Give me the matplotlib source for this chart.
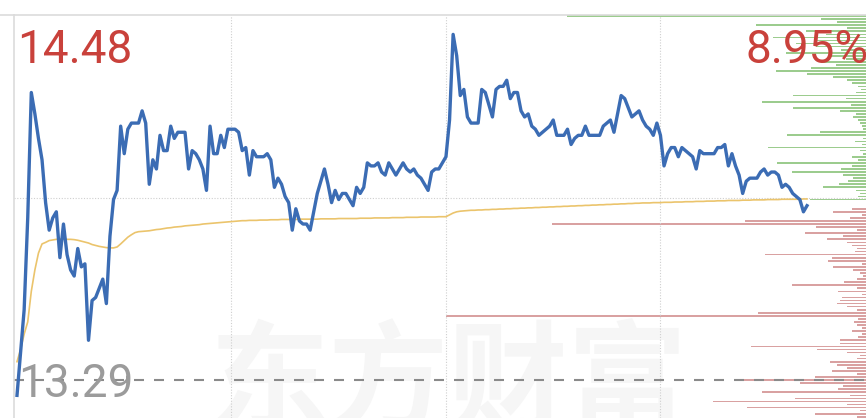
import matplotlib.pyplot as plt
from matplotlib.lines import Line2D
import numpy as np

# minute-by-minute last price (09:30 onwards)
price = [
    13.24, 13.38, 13.52, 13.82, 14.23, 14.16, 14.08, 14.01, 13.87, 13.78,
    13.82, 13.84, 13.69, 13.80, 13.70, 13.65, 13.63, 13.72, 13.66, 13.67,
    13.42, 13.55, 13.56, 13.59, 13.62, 13.54, 13.76, 13.88, 13.91, 14.12,
    14.03, 14.11, 14.13, 14.13, 14.13, 14.17, 14.13, 13.93, 14.01, 13.98,
    14.09, 14.04, 14.04, 14.12, 14.08, 14.10, 14.10, 14.10, 13.98, 14.04,
    14.03, 14.01, 13.98, 13.91, 14.12, 14.03, 14.03, 14.09, 14.05, 14.11,
    14.11, 14.11, 14.10, 14.04, 14.05, 13.96, 14.04, 14.02, 14.02, 14.02,
    14.03, 14.01, 13.92, 13.95, 13.93, 13.89, 13.87, 13.78, 13.85, 13.81,
    13.80, 13.80, 13.78, 13.84, 13.90, 13.94, 13.98, 13.93, 13.87, 13.91,
    13.88, 13.90, 13.90, 13.88, 13.86, 13.92, 13.90, 13.92, 14.00, 13.99,
    13.99, 14.00, 13.97, 13.96, 14.00, 13.98, 13.96, 13.98, 14.00, 13.98,
    13.97, 13.98, 13.96, 13.95, 13.93, 13.91, 13.97, 13.98, 13.98, 14.00,
    14.02, 14.14, 14.42, 14.35, 14.22, 14.24, 14.15, 14.13, 14.13, 14.13,
    14.24, 14.23, 14.19, 14.15, 14.24, 14.25, 14.25, 14.27, 14.21, 14.23,
    14.23, 14.17, 14.15, 14.16, 14.12, 14.11, 14.09, 14.10, 14.11, 14.12,
    14.14, 14.09, 14.09, 14.09, 14.11, 14.06, 14.08, 14.09, 14.09, 14.12,
    14.09, 14.09, 14.09, 14.09, 14.12, 14.13, 14.14, 14.10, 14.16, 14.22,
    14.21, 14.18, 14.15, 14.16, 14.17, 14.14, 14.12, 14.11, 14.09, 14.13,
    14.09, 13.99, 14.03, 14.05, 14.05, 14.02, 14.05, 14.04, 14.03, 14.02,
    13.98, 14.04, 14.03, 14.03, 14.03, 14.03, 14.05, 14.05, 14.06, 13.99,
    14.03, 13.99, 13.96, 13.90, 13.94, 13.95, 13.95, 13.95, 13.97, 13.98,
    13.96, 13.97, 13.97, 13.96, 13.92, 13.93, 13.92, 13.90, 13.89, 13.88,
    13.84, 13.86,
]

# average price line
avg_price = [
    13.350, 13.390, 13.440, 13.480, 13.580, 13.650, 13.705, 13.735, 13.740, 13.746,
    13.748, 13.750, 13.751, 13.751, 13.750, 13.750, 13.749, 13.747, 13.744, 13.741,
    13.738, 13.733, 13.730, 13.727, 13.725, 13.723, 13.722, 13.722, 13.725, 13.735,
    13.746, 13.757, 13.765, 13.772, 13.775, 13.776, 13.777, 13.778, 13.780, 13.782,
    13.783, 13.785, 13.787, 13.788, 13.790, 13.791, 13.792, 13.794, 13.795, 13.796,
    13.797, 13.798, 13.800, 13.801, 13.802, 13.803, 13.804, 13.805, 13.806, 13.807,
    13.808, 13.809, 13.810, 13.811, 13.811, 13.812, 13.812, 13.812, 13.813, 13.813,
    13.813, 13.814, 13.814, 13.814, 13.815, 13.815, 13.815, 13.815, 13.815, 13.816,
    13.816, 13.816, 13.816, 13.816, 13.816, 13.817, 13.817, 13.817, 13.817, 13.817,
    13.818, 13.818, 13.818, 13.818, 13.818, 13.818, 13.819, 13.819, 13.819, 13.819,
    13.820, 13.820, 13.820, 13.820, 13.820, 13.821, 13.821, 13.821, 13.821, 13.822,
    13.822, 13.822, 13.822, 13.823, 13.823, 13.823, 13.823, 13.823, 13.824, 13.824,
    13.824, 13.830, 13.836, 13.840, 13.842, 13.843, 13.844, 13.845, 13.845, 13.846,
    13.846, 13.847, 13.847, 13.848, 13.848, 13.849, 13.849, 13.850, 13.850, 13.851,
    13.851, 13.852, 13.852, 13.853, 13.853, 13.854, 13.854, 13.855, 13.855, 13.856,
    13.856, 13.857, 13.857, 13.858, 13.858, 13.859, 13.859, 13.860, 13.860, 13.861,
    13.861, 13.862, 13.862, 13.863, 13.863, 13.864, 13.864, 13.865, 13.865, 13.866,
    13.866, 13.867, 13.867, 13.868, 13.868, 13.869, 13.869, 13.869, 13.870, 13.870,
    13.870, 13.871, 13.871, 13.871, 13.872, 13.872, 13.872, 13.873, 13.873, 13.873,
    13.874, 13.874, 13.874, 13.875, 13.875, 13.875, 13.876, 13.876, 13.876, 13.877,
    13.877, 13.877, 13.877, 13.878, 13.878, 13.878, 13.879, 13.879, 13.879, 13.879,
    13.880, 13.880, 13.880, 13.880, 13.881, 13.881, 13.881, 13.881, 13.881, 13.881,
    13.882, 13.882,
]

prev_close = 13.29
top_price = 14.48
labels = ["14.48", "8.95%", "13.29"]

# chip distribution, one bar per 0.01 price step
chip_green_top = 14.48
chip_green_vol = [
    299, 45, 29, 110, 19, 60, 40, 93, 49, 70,
    50, 25, 80, 35, 20, 45, 30, 55, 90, 59,
    33, 19, 14, 8, 5, 10, 73, 20, 104, 15,
    73, 26, 10, 13, 8, 6, 4, 3, 46, 79,
    3, 11, 4, 98, 6, 3, 14, 8, 89, 14,
    25, 74, 23, 13, 18, 27, 43, 10, 6, 8,
    56,
]
chip_red_top = 13.85
chip_red_vol = [
    14, 33, 4, 16, 121, 314, 50, 9, 61, 23,
    39, 19, 14, 9, 11, 101, 34, 38, 4, 33,
    13, 6, 3, 9, 22, 74, 9, 28, 4, 24,
    26, 29, 19, 9, 108, 420, 8, 12, 9, 4,
    14, 4, 8, 26, 26, 115, 49, 19, 6, 9,
    36, 29, 19, 34, 9, 51, 129, 66, 23, 28,
    104, 16, 71, 153, 19, 119, 6, 51, 9,
]

W, H = 866, 418
fig = plt.figure(figsize=(W / 100, H / 100), dpi=100)
fig.patch.set_facecolor('white')

rect = [14 / W, 0, 852 / W, 403 / H]
ylim = (13.166, 14.4833)

# watermark behind everything
fig.text(448 / W, -4 / H, "东方财富", fontsize=86, family=['Noto Sans CJK SC', 'DejaVu Sans'],
         weight='bold', color='#f6f6f6', ha='center', va='baseline', zorder=-1)

# chip bars (drawn from the right edge)
ax_chip = fig.add_axes(rect)
ax_chip.set_facecolor('none')
green_levels = np.round(chip_green_top - 0.01 * np.arange(len(chip_green_vol)), 2)
red_levels = np.round(chip_red_top - 0.01 * np.arange(len(chip_red_vol)), 2)
ax_chip.barh(green_levels, chip_green_vol, height=0.0055, color='#9ccc8e', linewidth=0)
ax_chip.barh(red_levels, chip_red_vol, height=0.0055, color='#d9a1a1', linewidth=0)
ax_chip.set_xlim(852, 0)
ax_chip.set_ylim(*ylim)
ax_chip.axis('off')

# price axes
ax = fig.add_axes(rect)
ax.set_facecolor('none')
minutes = np.arange(len(price))
ax.set_xlim(-0.84, 237.5)
ax.set_ylim(*ylim)
ax.set_xticks([])
ax.set_yticks([])
for s in ['bottom', 'right']:
    ax.spines[s].set_visible(False)
for s in ['top', 'left']:
    ax.spines[s].set_color('#dcdcdc')
    ax.spines[s].set_linewidth(1.2)

for m in [60, 120, 180]:
    ax.axvline(m, color='#cfcfcf', lw=0.8, ls=(0, (1, 1.5)), zorder=1)
ax.axhline((top_price + prev_close) / 2, color='#cfcfcf', lw=0.8, ls=(0, (1, 1.5)), zorder=1)
ax.axhline(prev_close, color='#8a8a8a', lw=1.5, ls=(0, (4.8, 4.8)), zorder=2)

ax.plot(minutes, avg_price, color='#ebc46c', lw=1.2, zorder=3)
ax.plot(minutes, price, color='#3b6cb4', lw=2.4, solid_joinstyle='round', zorder=4)

# top border runs to the left edge
fig.add_artist(Line2D([0, 14 / W], [1 - 15 / H, 1 - 15 / H], color='#dcdcdc', lw=1.2))

fig.text(17 / W, 1 - 63 / H, labels[0], color='#c9413b', fontsize=33, family='Roboto', va='baseline')
fig.text(745 / W, 1 - 63 / H, labels[1], color='#c9413b', fontsize=33, family='Roboto', va='baseline')
fig.text(18 / W, 1 - 397 / H, labels[2], color='#9b9b9b', fontsize=33, family='Roboto', va='baseline')

plt.savefig('out.png', dpi=100)
